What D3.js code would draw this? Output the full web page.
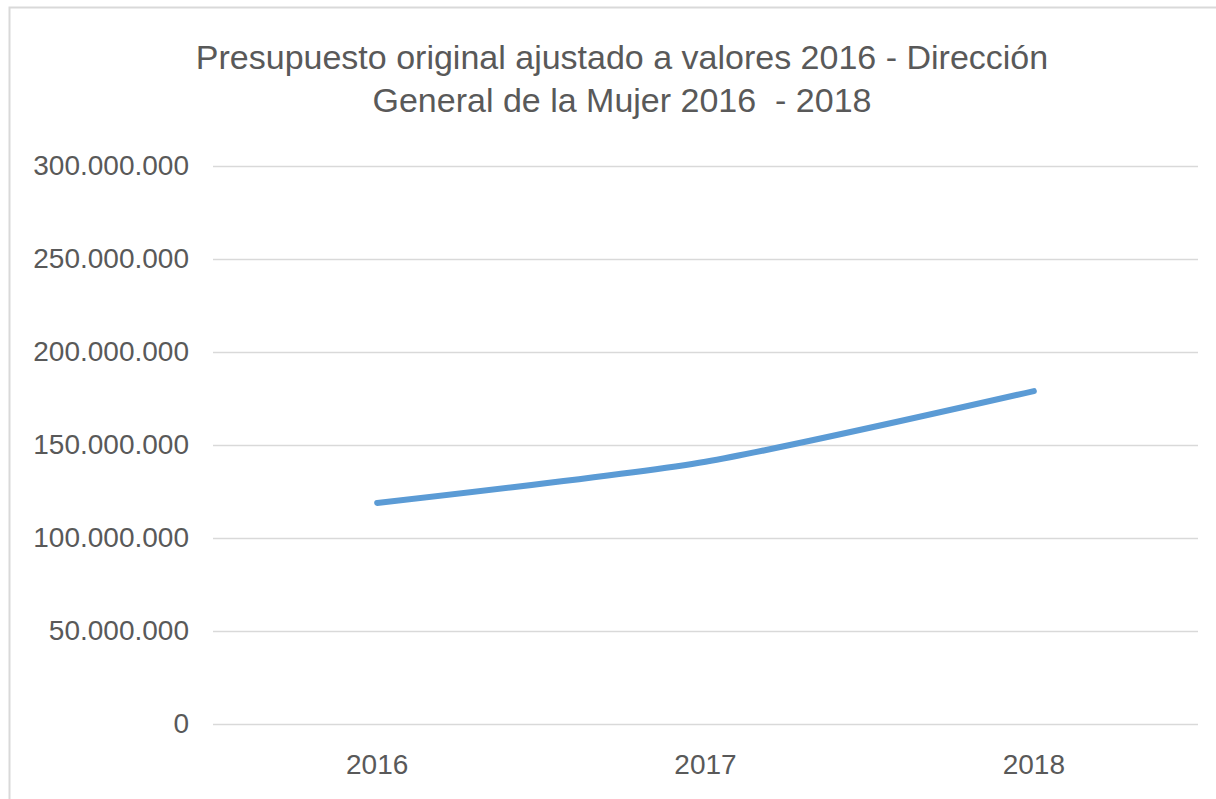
<!DOCTYPE html>
<html><head><meta charset="utf-8">
<script src="https://cdn.jsdelivr.net/npm/d3@7"></script>
<style>body{margin:0;background:#fff}svg{display:block}</style>
</head><body>
<svg id="c" width="1216" height="799"></svg>
<script>
const categories = ["2016", "2017", "2018"];
const values = [118800000, 141000000, 179000000];
const yTicks = [0, 50000000, 100000000, 150000000, 200000000, 250000000, 300000000];
const titleLines = ["Presupuesto original ajustado a valores 2016 - Dirección", "General de la Mujer 2016  - 2018"];

const svg = d3.select("#c");
const W = 1216, H = 799;
const m = {left: 213, right: 18, top: 166, bottom: 75};

svg.append("rect").attr("x", 9.5).attr("y", 7.5).attr("width", W + 20).attr("height", H + 20)
  .attr("fill", "#fff").attr("stroke", "#d9d9d9").attr("stroke-width", 2);

const x = d3.scaleBand().domain(categories).range([m.left, W - m.right]);
const y = d3.scaleLinear().domain([0, 300000000]).range([H - m.bottom, m.top]);

const fmt = v => d3.format(",")(v).replace(/,/g, ".");

const yAxis = svg.append("g").attr("transform", `translate(${m.left},0)`)
  .call(d3.axisLeft(y).tickValues(yTicks).tickFormat(fmt).tickSize(-(W - m.right - m.left)).tickPadding(24));
yAxis.select(".domain").remove();
yAxis.selectAll("line").attr("stroke", "#d9d9d9").attr("stroke-width", 1.5);
yAxis.selectAll("text").attr("fill", "#595959").style("font-family", "'Liberation Sans', Arial, sans-serif").style("font-size", "28px");

const xAxis = svg.append("g").attr("transform", `translate(0,${H - m.bottom})`)
  .call(d3.axisBottom(x).tickSize(0).tickPadding(30));
xAxis.select(".domain").remove();
xAxis.selectAll("text").attr("fill", "#595959").style("font-family", "'Liberation Sans', Arial, sans-serif").style("font-size", "28px");

const line = d3.line().x((d, i) => x(categories[i]) + x.bandwidth() / 2).y(d => y(d)).curve(d3.curveCardinal.tension(0.3));
svg.append("path").datum(values).attr("d", line).attr("fill", "none")
  .attr("stroke", "#5b9bd5").attr("stroke-width", 6).attr("stroke-linecap", "round");

svg.append("g").selectAll("text").data(titleLines).join("text")
  .attr("x", 622).attr("y", (d, i) => 69 + i * 43).attr("text-anchor", "middle")
  .attr("fill", "#595959").style("font-family", "'Liberation Sans', Arial, sans-serif").style("font-size", "34px")
  .style("white-space", "pre").attr("xml:space", "preserve")
  .text(d => d);
</script>
</body></html>
